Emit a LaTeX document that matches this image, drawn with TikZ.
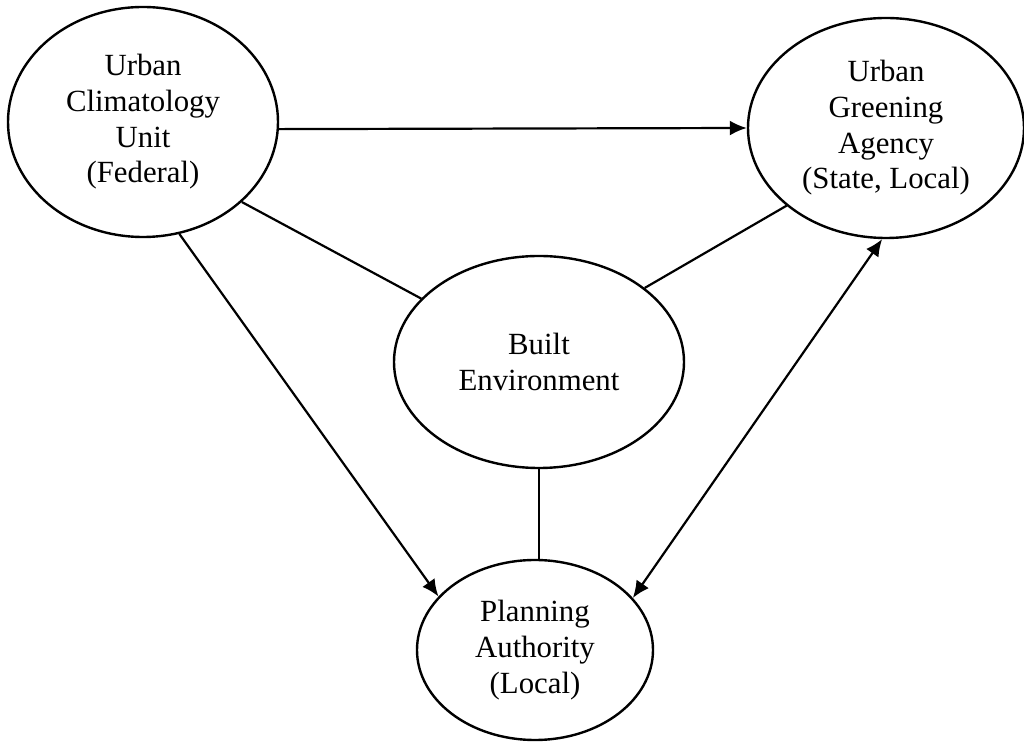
\documentclass[tikz,border=0pt]{standalone}
\usepackage{fontspec}
\setmainfont{Liberation Serif}
\usetikzlibrary{shapes.geometric,arrows.meta}
\begin{document}
\begin{tikzpicture}[x=0.5pt,y=0.5pt,
actor/.style ={ellipse, draw=black, line width=1.2pt, inner sep=0pt,
  align=center, font=\fontsize{15.4}{17.8}\selectfont
},
link/.style ={line width=1.1pt},
flow/.style ={line width=1.1pt, -{Latex[length=8.5pt,width=7.5pt]}},
both/.style ={line width=1.1pt, {Latex[length=8.5pt,width=7.5pt]}-{Latex[length=8.5pt,width=7.5pt]}}]
\useasboundingbox (0,0) rectangle (1024,744);
\node (cu) at (143,622) [actor, minimum width=135pt, minimum height=115pt] {Urban\\Climatology\\Unit\\(Federal)};
\node (ga) at (886,616) [actor, minimum width=138pt, minimum height=110pt] {Urban\\Greening\\Agency\\(State, Local)};
\node (be) at (539,382) [actor, minimum width=145pt, minimum height=106pt] {Built\\Environment};
\node (pa) at (535,94) [actor, minimum width=118pt, minimum height=90pt] {Planning\\Authority\\(Local)};

\draw[flow] (cu.-3) -- (ga.west);
\draw[flow] (cu.-72) -- (pa.151);
\draw[link] (cu.-39) -- (be);
\draw[link] (be.35) -- (ga.218);
\draw[link] (be.south) -- (be.south |- pa.north);
\draw[both] (pa.28) -- (ga.-92);
\end{tikzpicture}
\end{document}
